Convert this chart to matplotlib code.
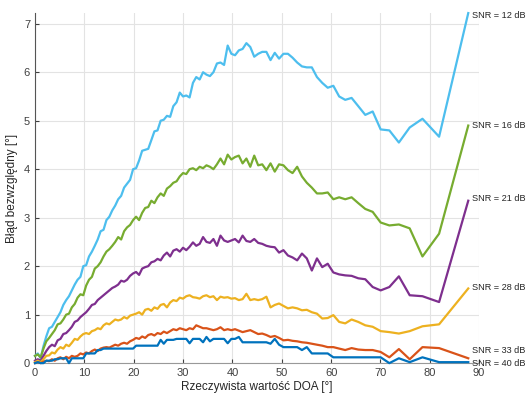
import numpy as np
import matplotlib
matplotlib.use("Agg")
from matplotlib import pyplot as plt

plt.rcParams['font.family'] = ['Liberation Sans', 'DejaVu Sans']

# DOA grid [deg]
doa = [0.0, 0.57, 1.15, 1.72, 2.29, 2.87, 3.44, 4.01, 4.59, 5.16,
       5.74, 6.32, 6.89, 7.47, 8.05, 8.63, 9.21, 9.79, 10.37, 10.95,
       11.54, 12.12, 12.71, 13.30, 13.89, 14.48, 15.07, 15.66, 16.26, 16.86,
       17.46, 18.06, 18.66, 19.27, 19.88, 20.49, 21.10, 21.72, 22.33, 22.95,
       23.58, 24.20, 24.83, 25.47, 26.10, 26.74, 27.39, 28.03, 28.69, 29.34,
       30.00, 30.66, 31.33, 32.01, 32.68, 33.37, 34.06, 34.75, 35.45, 36.16,
       36.87, 37.59, 38.32, 39.05, 39.79, 40.54, 41.30, 42.07, 42.84, 43.63,
       44.43, 45.23, 46.05, 46.89, 47.73, 48.59, 49.46, 50.35, 51.26, 52.19,
       53.13, 54.10, 55.08, 56.10, 57.14, 58.21, 59.32, 60.46, 61.64, 62.87,
       64.16, 65.51, 66.93, 68.43, 70.05, 71.81, 73.74, 75.93, 78.52, 81.89,
       87.8]

err_12 = [0.15, 0.2, 0.1, 0.35, 0.55, 0.72, 0.75, 0.85, 0.95, 1.05,
          1.2, 1.3, 1.38, 1.5, 1.62, 1.72, 1.78, 2.0, 2.02, 2.2,
          2.3, 2.42, 2.55, 2.72, 2.75, 2.95, 3.02, 3.15, 3.25, 3.38,
          3.45, 3.62, 3.7, 3.78, 4.0, 4.02, 4.18, 4.38, 4.4, 4.42,
          4.6, 4.78, 4.8, 5.0, 5.02, 5.1, 5.08, 5.3, 5.38, 5.58,
          5.5, 5.52, 5.48, 5.78, 5.9, 5.85, 6.0, 5.95, 5.92, 6.0,
          6.18, 6.2, 6.15, 6.55, 6.38, 6.35, 6.45, 6.48, 6.6, 6.52,
          6.32, 6.38, 6.42, 6.42, 6.25, 6.4, 6.28, 6.38, 6.38, 6.3,
          6.2, 6.12, 6.1, 6.1, 5.9, 5.78, 5.68, 5.72, 5.5, 5.43,
          5.47, 5.3, 5.12, 5.19, 4.82, 4.8, 4.55, 4.86, 5.04, 4.67,
          7.22]

err_16 = [0.15, 0.18, 0.12, 0.3, 0.45, 0.52, 0.6, 0.68, 0.8, 0.82,
          0.9, 1.0, 1.02, 1.15, 1.22, 1.35, 1.42, 1.4, 1.6, 1.72,
          1.78, 1.95, 2.0, 2.08, 2.2, 2.3, 2.35, 2.42, 2.5, 2.6,
          2.55, 2.72, 2.8, 2.85, 2.95, 3.02, 2.95, 3.1, 3.2, 3.22,
          3.35, 3.3, 3.42, 3.5, 3.45, 3.6, 3.65, 3.72, 3.75, 3.85,
          3.92, 3.9, 4.0, 4.02, 3.98, 4.05, 4.02, 4.08, 4.05, 4.0,
          4.1, 4.22, 4.1, 4.3, 4.2, 4.25, 4.28, 4.12, 4.22, 4.05,
          4.28, 4.08, 4.1, 3.98, 4.12, 3.95, 4.1, 4.08, 3.98, 3.92,
          4.05, 3.85, 3.72, 3.62, 3.5, 3.5, 3.52, 3.38, 3.42, 3.38,
          3.42, 3.3, 3.18, 3.12, 2.9, 2.84, 2.86, 2.78, 2.2, 2.67,
          4.9]

err_21 = [0.05, 0.08, 0.05, 0.15, 0.25, 0.33, 0.38, 0.35, 0.47, 0.5,
          0.6, 0.62, 0.68, 0.75, 0.85, 0.88, 0.95, 1.0, 1.05, 1.12,
          1.2, 1.22, 1.3, 1.35, 1.4, 1.45, 1.5, 1.55, 1.58, 1.62,
          1.7, 1.68, 1.72, 1.8, 1.85, 1.88, 1.82, 1.95, 1.98, 2.0,
          2.08, 2.1, 2.15, 2.12, 2.22, 2.28, 2.2, 2.32, 2.35, 2.3,
          2.38, 2.33, 2.4, 2.49, 2.42, 2.46, 2.6, 2.5, 2.48, 2.56,
          2.42, 2.63, 2.53, 2.5, 2.53, 2.56, 2.49, 2.63, 2.52, 2.5,
          2.56, 2.48, 2.46, 2.42, 2.4, 2.39, 2.28, 2.33, 2.22, 2.18,
          2.12, 2.26, 2.16, 1.91, 2.16, 1.98, 2.05, 1.87, 1.83, 1.81,
          1.8, 1.75, 1.73, 1.57, 1.5, 1.57, 1.79, 1.4, 1.38, 1.26,
          3.35]

err_28 = [0.02, 0.05, 0.02, 0.08, 0.15, 0.16, 0.22, 0.2, 0.28, 0.33,
          0.3, 0.38, 0.35, 0.42, 0.5, 0.48, 0.55, 0.6, 0.62, 0.6,
          0.66, 0.68, 0.72, 0.7, 0.78, 0.82, 0.8, 0.85, 0.9, 0.88,
          0.9, 0.95, 0.92, 0.98, 1.0, 1.02, 1.05, 1.0, 1.1, 1.12,
          1.08, 1.15, 1.12, 1.2, 1.22, 1.15, 1.25, 1.3, 1.28, 1.35,
          1.33, 1.38, 1.4, 1.36, 1.35, 1.33, 1.38, 1.4, 1.36, 1.38,
          1.3, 1.37, 1.35, 1.36, 1.33, 1.34, 1.3, 1.32, 1.43, 1.3,
          1.32, 1.3, 1.32, 1.37, 1.15, 1.2, 1.23, 1.18, 1.13, 1.15,
          1.13, 1.09, 1.1, 1.05, 1.02, 0.92, 0.93, 0.99, 0.85, 0.82,
          0.9, 0.85, 0.78, 0.75, 0.66, 0.64, 0.61, 0.66, 0.76, 0.8,
          1.54]

err_33 = [0.0, 0.02, 0.0, 0.03, 0.05, 0.04, 0.08, 0.05, 0.1, 0.12,
          0.08, 0.13, 0.1, 0.15, 0.13, 0.15, 0.2, 0.18, 0.22, 0.2,
          0.25, 0.28, 0.25, 0.3, 0.32, 0.33, 0.32, 0.35, 0.38, 0.36,
          0.4, 0.42, 0.4, 0.45, 0.48, 0.52, 0.5, 0.55, 0.52, 0.58,
          0.6, 0.57, 0.62, 0.6, 0.65, 0.62, 0.66, 0.7, 0.68, 0.72,
          0.7, 0.68, 0.72, 0.7, 0.78, 0.75, 0.72, 0.72, 0.7, 0.68,
          0.7, 0.74, 0.68, 0.7, 0.68, 0.7, 0.67, 0.64, 0.66, 0.68,
          0.64, 0.6, 0.61, 0.58, 0.54, 0.56, 0.52, 0.47, 0.48, 0.46,
          0.45, 0.43, 0.42, 0.4, 0.38, 0.36, 0.33, 0.33, 0.3, 0.27,
          0.31, 0.28, 0.27, 0.27, 0.23, 0.12, 0.29, 0.08, 0.33, 0.31,
          0.1]

err_40 = [0.0, 0.02, 0.0, 0.0, 0.05, 0.05, 0.05, 0.08, 0.08, 0.1,
          0.1, 0.1, 0.0, 0.1, 0.1, 0.1, 0.1, 0.1, 0.2, 0.2,
          0.2, 0.2, 0.27, 0.27, 0.3, 0.3, 0.3, 0.3, 0.3, 0.3,
          0.3, 0.3, 0.3, 0.3, 0.3, 0.36, 0.36, 0.36, 0.36, 0.36,
          0.36, 0.36, 0.36, 0.48, 0.4, 0.48, 0.48, 0.48, 0.5, 0.5,
          0.5, 0.5, 0.41, 0.5, 0.5, 0.5, 0.43, 0.54, 0.45, 0.5,
          0.5, 0.5, 0.5, 0.41, 0.5, 0.5, 0.54, 0.43, 0.43, 0.43,
          0.43, 0.43, 0.43, 0.43, 0.4, 0.5, 0.38, 0.33, 0.33, 0.33,
          0.33, 0.27, 0.33, 0.2, 0.2, 0.2, 0.2, 0.12, 0.12, 0.12,
          0.12, 0.12, 0.12, 0.12, 0.12, 0.0, 0.1, 0.02, 0.12, 0.02,
          0.02]

snr_labels = ['SNR = 12 dB', 'SNR = 16 dB', 'SNR = 21 dB',
              'SNR = 28 dB', 'SNR = 33 dB', 'SNR = 40 dB']
label_y = [7.18, 4.9, 3.4, 1.55, 0.27, 0.0]

series = [err_12, err_16, err_21, err_28, err_33, err_40]
colors = ['#4DBEEE', '#77AC30', '#7E2F8E', '#EDB120', '#D95319', '#0072BD']

fig = plt.figure(figsize=(5.3, 3.96), dpi=100)
ax = fig.add_axes([0.066, 0.083, 0.838, 0.884])

for y, c in zip(series, colors):
    ax.plot(doa, y, color=c, linewidth=1.6, clip_on=False, zorder=3)

# series names next to the line ends
for txt, yy in zip(snr_labels, label_y):
    ax.text(88.6, yy, txt, fontsize=6.6, color='#262626',
            va='center', ha='left', clip_on=False)

ax.set_xlim(0, 90)
ax.set_ylim(0, 7.22)
ax.set_xticks(np.arange(0, 91, 10))
ax.set_yticks(np.arange(0, 8, 1))
ax.grid(True, color='#e3e3e3', linewidth=0.8)
ax.set_axisbelow(True)
for s in ['top', 'right']:
    ax.spines[s].set_visible(False)
ax.spines['left'].set_color('#555555')
ax.spines['bottom'].set_color('#999999')
ax.tick_params(direction='in', length=3, labelsize=8, colors='#404040')
ax.set_xlabel('Rzeczywista wartość DOA [°]', fontsize=8.5, color='#262626', labelpad=2)
ax.set_ylabel('Błąd bezwzględny [°]', fontsize=8.5, color='#262626', labelpad=4)

plt.savefig('out.png', dpi=100)
